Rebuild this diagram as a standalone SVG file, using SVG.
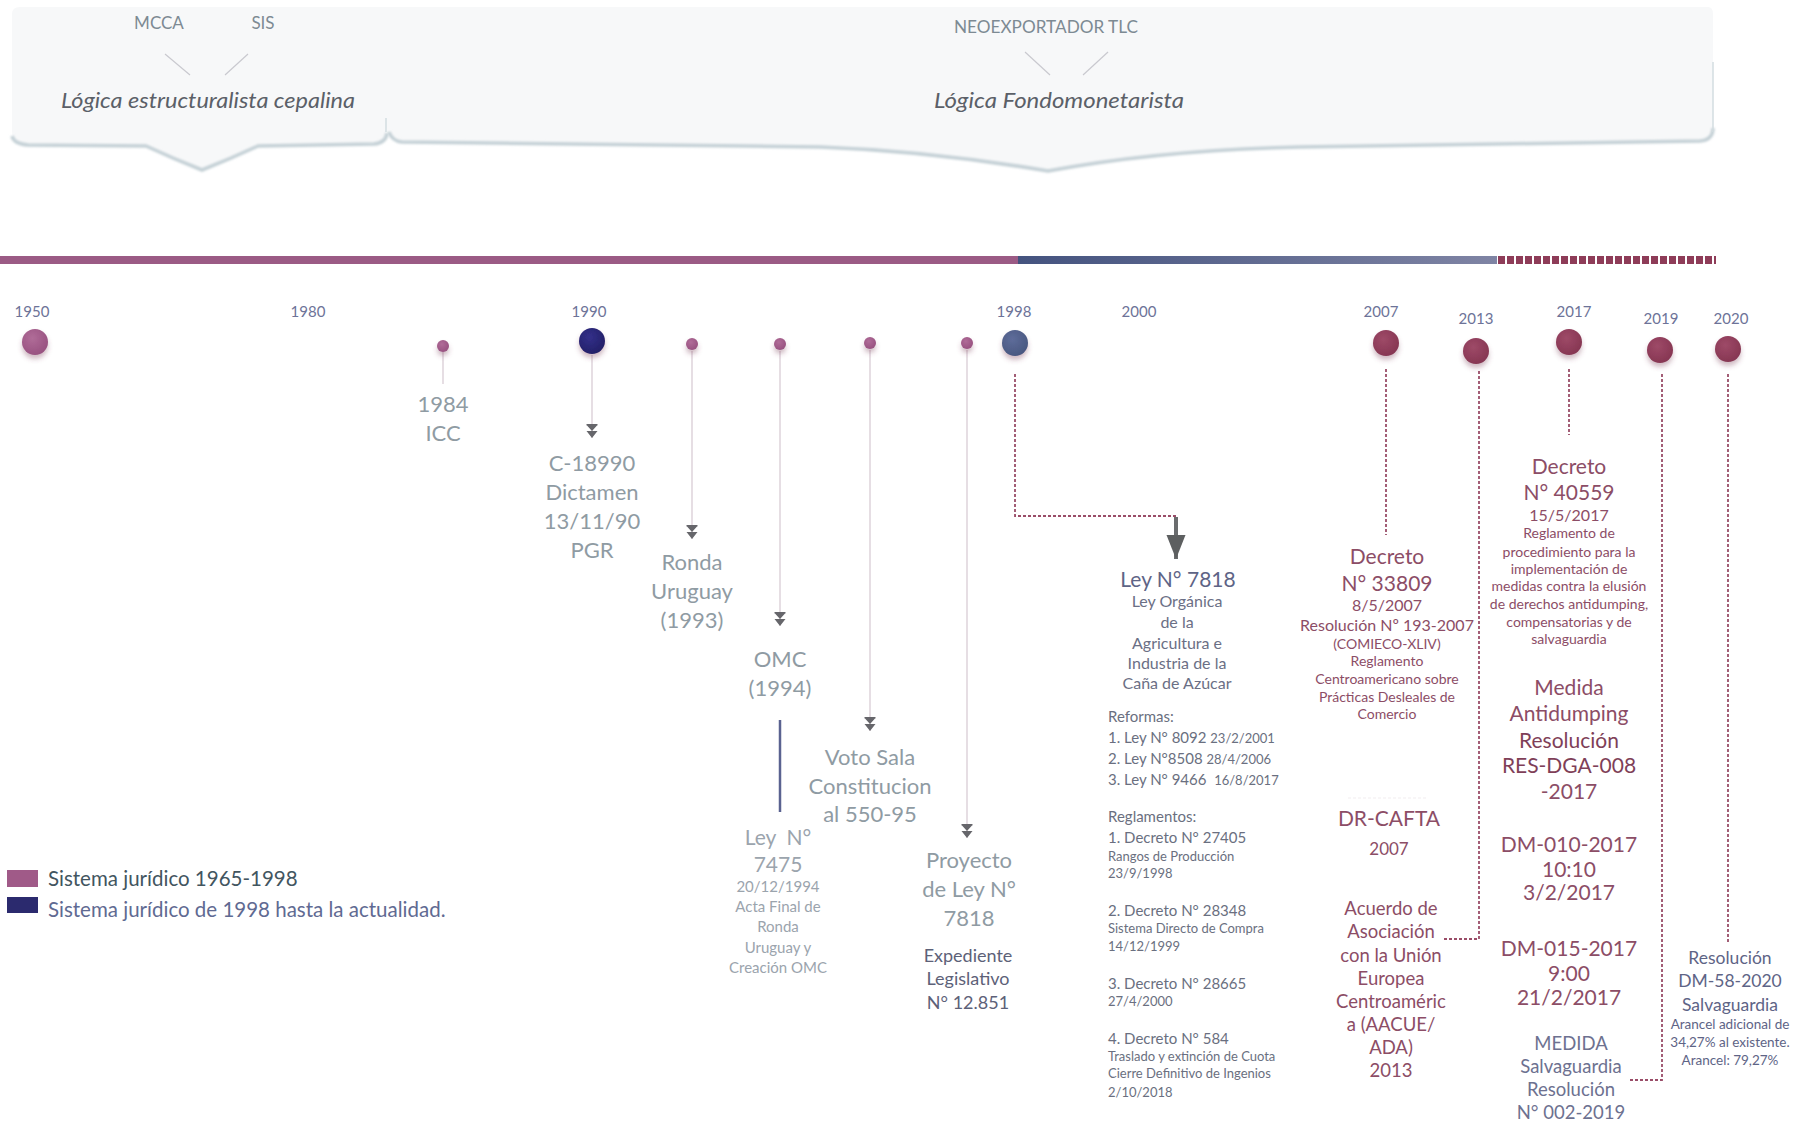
<svg xmlns="http://www.w3.org/2000/svg" width="1806" height="1123" viewBox="0 0 1806 1123">
<defs>
  <style>
    text { font-family: Lato, "Open Sans", "Liberation Sans", sans-serif; text-anchor: middle; }
    .yr { font-size: 15px; fill: #6d7398; }
    .top { font-size: 17px; fill: #7d8a93; }
    .logic { font-size: 22px; font-style: italic; fill: #5b6068; }
    .gl { font-size: 22px; fill: #8f9ba3; }
    .gs { font-size: 15px; fill: #9ba4ad; }
    .gm { font-size: 21px; fill: #9ba4ad; }
    .exp { font-size: 18px; fill: #5d6178; }
    .bl { font-size: 21px; fill: #5e6486; }
    .bs { font-size: 16px; fill: #6b6f85; }
    .ref { font-size: 15px; fill: #6a6f80; text-anchor: start; }
    .refs { font-size: 13px; fill: #6a6f80; }
    .ml { font-size: 21px; fill: #8c4d66; }
    .mm { font-size: 16px; fill: #8c4d66; }
    .ms { font-size: 14px; fill: #8c4d66; }
    .md { font-size: 18.5px; fill: #8c4d66; }
    .sv { font-size: 18.5px; fill: #6d7190; }
    .rs { font-size: 17.5px; fill: #5e6486; }
    .rss { font-size: 13.5px; fill: #5e6486; }
    .leg { font-size: 20.5px; text-anchor: start; }
    .conn { fill: none; stroke: #d9cdd5; stroke-width: 1.3; }
    .dash { fill: none; stroke: #9a4d68; stroke-width: 1.8; stroke-dasharray: 3 2; }
    .thin { stroke: #c9c9cf; stroke-width: 1.2; }
  </style>
  <marker id="dbl" markerUnits="userSpaceOnUse" viewBox="0 -6 14 12" markerWidth="14" markerHeight="12" refX="14" refY="0" orient="auto">
    <path d="M0,-5.5 L1.5,-5.5 L1.5,5.5 L0,5.5 Z M1.5,-5 L7,0 L1.5,5 Z M7,-5.5 L14,0 L7,5.5 Z" fill="#66666b"/>
  </marker>
  <marker id="big" markerUnits="userSpaceOnUse" viewBox="0 -10 24 20" markerWidth="24" markerHeight="20" refX="24" refY="0" orient="auto">
    <path d="M0,-9.5 L24,0 L0,9.5 Z" fill="#5d5f60"/>
  </marker>
  <linearGradient id="bluebar" x1="0" x2="1" y1="0" y2="0">
    <stop offset="0" stop-color="#44537f"/>
    <stop offset="1" stop-color="#7f84a4"/>
  </linearGradient>
  <radialGradient id="gPink" cx="0.4" cy="0.35" r="0.7">
    <stop offset="0" stop-color="#b06c98"/>
    <stop offset="1" stop-color="#97507f"/>
  </radialGradient>
  <radialGradient id="gNavy" cx="0.4" cy="0.35" r="0.7">
    <stop offset="0" stop-color="#33308a"/>
    <stop offset="1" stop-color="#221f66"/>
  </radialGradient>
  <radialGradient id="gSlate" cx="0.4" cy="0.35" r="0.7">
    <stop offset="0" stop-color="#5e6c9a"/>
    <stop offset="1" stop-color="#48577f"/>
  </radialGradient>
  <radialGradient id="gMar" cx="0.4" cy="0.35" r="0.7">
    <stop offset="0" stop-color="#9e4a68"/>
    <stop offset="1" stop-color="#853551"/>
  </radialGradient>
  <filter id="sh" x="-60%" y="-60%" width="220%" height="240%">
    <feDropShadow dx="0" dy="4" stdDeviation="2.5" flood-color="#7a3a55" flood-opacity="0.35"/>
  </filter>
  <filter id="soft" x="-5%" y="-50%" width="110%" height="200%">
    <feGaussianBlur stdDeviation="1"/>
  </filter>
</defs>

<rect width="1806" height="1123" fill="#ffffff"/>

<!-- Banner -->
<g id="banner">
  <path d="M386,7 H1708 Q1713,7 1713,14 V130 Q1713,139 1700,140 L1300,146 Q1160,149 1048,170 Q930,150 820,146 L402,141 Q388,140 386,128 Z" fill="#f7f8f9"/>
  <path d="M12,14 Q12,7 20,7 H386 V131 Q386,142 374,143 L258,145 Q230,158 202,169 Q174,158 146,145 L28,144 Q12,143 12,131 Z" fill="#f7f8f9"/>
  <path d="M12,136 Q14,144 28,145 L146,146 Q174,159 202,170 Q230,159 258,146 L374,144 Q386,143 387,133" fill="none" stroke="#c4d0d6" stroke-width="3.5" filter="url(#soft)"/>
  <path d="M389,132 Q392,141 402,142 L820,147 Q930,151 1048,171 Q1160,150 1300,147 L1700,141 Q1713,140 1713,128" fill="none" stroke="#c4d0d6" stroke-width="3.5" filter="url(#soft)"/>
  <path d="M386,118 V132 M1713,62 V132" fill="none" stroke="#d3dde1" stroke-width="1.5"/>
  <text class="top" x="159" y="29">MCCA</text>
  <text class="top" x="263" y="29">SIS</text>
  <line class="thin" x1="165" y1="54" x2="190" y2="75"/>
  <line class="thin" x1="248" y1="54" x2="225" y2="75"/>
  <text class="logic" x="208" y="108" textLength="294" lengthAdjust="spacingAndGlyphs">Lógica estructuralista cepalina</text>
  <text class="top" x="1046" y="33" textLength="184" lengthAdjust="spacingAndGlyphs">NEOEXPORTADOR TLC</text>
  <line class="thin" x1="1025" y1="52" x2="1050" y2="75"/>
  <line class="thin" x1="1108" y1="52" x2="1083" y2="75"/>
  <text class="logic" x="1059" y="108" textLength="250" lengthAdjust="spacingAndGlyphs">Lógica Fondomonetarista</text>
</g>

<!-- Timeline bar -->
<g id="timeline">
  <rect x="0" y="256" width="1018" height="8" fill="#9b5b85"/>
  <rect x="1018" y="256" width="479" height="8" fill="url(#bluebar)"/>
  <line x1="1498" y1="260" x2="1716" y2="260" stroke="#8e3c58" stroke-width="8" stroke-dasharray="7 2"/>
</g>

<!-- Year labels -->
<g id="years">
  <text class="yr" x="32" y="317">1950</text>
  <text class="yr" x="308" y="317">1980</text>
  <text class="yr" x="589" y="317">1990</text>
  <text class="yr" x="1014" y="317">1998</text>
  <text class="yr" x="1139" y="317">2000</text>
  <text class="yr" x="1381" y="317">2007</text>
  <text class="yr" x="1476" y="324">2013</text>
  <text class="yr" x="1574" y="317">2017</text>
  <text class="yr" x="1661" y="324">2019</text>
  <text class="yr" x="1731" y="324">2020</text>
</g>

<!-- Connectors -->
<g id="connectors">
  <line class="conn" x1="443" y1="352" x2="443" y2="384"/>
  <line class="conn" x1="592" y1="355" x2="592" y2="438" marker-end="url(#dbl)"/>
  <line class="conn" x1="692" y1="351" x2="692" y2="539" marker-end="url(#dbl)"/>
  <line class="conn" x1="780" y1="351" x2="780" y2="626" marker-end="url(#dbl)"/>
  <line class="conn" x1="870" y1="350" x2="870" y2="731" marker-end="url(#dbl)"/>
  <line class="conn" x1="967" y1="350" x2="967" y2="838" marker-end="url(#dbl)"/>
  <line x1="780" y1="720" x2="780" y2="812" stroke="#5a6290" stroke-width="2.5"/>
  <path class="dash" d="M1015,374 V516 H1176"/>
  <line x1="1176" y1="517" x2="1176" y2="559" stroke="#6a6c6e" stroke-width="4" marker-end="url(#big)"/>
  <line class="dash" x1="1386" y1="369" x2="1386" y2="535"/>
  <path class="dash" d="M1479,371 V939 H1443"/>
  <line class="dash" x1="1569" y1="369" x2="1569" y2="435"/>
  <path class="dash" d="M1662,374 V1080 H1630"/>
  <line class="dash" x1="1728" y1="374" x2="1728" y2="944"/>
  <line x1="1348" y1="798" x2="1428" y2="798" stroke="#f1eef0" stroke-width="1.2" stroke-dasharray="3 2"/>
</g>

<!-- Nodes -->
<g id="n1950"><circle cx="35" cy="342" r="13" fill="url(#gPink)" filter="url(#sh)"/></g>
<g id="n1984">
  <circle cx="443" cy="346" r="6" fill="url(#gPink)" filter="url(#sh)"/>
  <text class="gl" x="443" y="412">1984</text>
  <text class="gl" x="443" y="441">ICC</text>
</g>
<g id="n1990">
  <circle cx="592" cy="341" r="13" fill="url(#gNavy)" filter="url(#sh)"/>
  <text class="gl" x="592" y="471">C-18990</text>
  <text class="gl" x="592" y="500">Dictamen</text>
  <text class="gl" x="592" y="529">13/11/90</text>
  <text class="gl" x="592" y="558">PGR</text>
</g>
<g id="nRonda">
  <circle cx="692" cy="344" r="6" fill="url(#gPink)" filter="url(#sh)"/>
  <text class="gl" x="692" y="570">Ronda</text>
  <text class="gl" x="692" y="599">Uruguay</text>
  <text class="gl" x="692" y="628">(1993)</text>
</g>
<g id="nOMC">
  <circle cx="780" cy="344" r="6" fill="url(#gPink)" filter="url(#sh)"/>
  <text class="gl" x="780" y="667">OMC</text>
  <text class="gl" x="780" y="696">(1994)</text>
</g>
<g id="nLey7475">
  <text class="gm" x="778" y="845">Ley&#160; N°</text>
  <text class="gm" x="778" y="872">7475</text>
  <text class="gs" x="778" y="892">20/12/1994</text>
  <text class="gs" x="778" y="912">Acta Final de</text>
  <text class="gs" x="778" y="932">Ronda</text>
  <text class="gs" x="778" y="953">Uruguay y</text>
  <text class="gs" x="778" y="973">Creación OMC</text>
</g>
<g id="nVoto">
  <circle cx="870" cy="343" r="6" fill="url(#gPink)" filter="url(#sh)"/>
  <text class="gl" x="870" y="765">Voto Sala</text>
  <text class="gl" x="870" y="794">Constitucion</text>
  <text class="gl" x="870" y="822">al 550-95</text>
</g>
<g id="nProyecto">
  <circle cx="967" cy="343" r="6" fill="url(#gPink)" filter="url(#sh)"/>
  <text class="gl" x="969" y="868">Proyecto</text>
  <text class="gl" x="969" y="897">de Ley N°</text>
  <text class="gl" x="969" y="926">7818</text>
  <text class="exp" x="968" y="962">Expediente</text>
  <text class="exp" x="968" y="985">Legislativo</text>
  <text class="exp" x="968" y="1009">N° 12.851</text>
</g>
<g id="n1998">
  <circle cx="1015" cy="343" r="13" fill="url(#gSlate)" filter="url(#sh)"/>
  <text class="bl" x="1178" y="587">Ley N° 7818</text>
  <text class="bs" x="1177" y="607">Ley Orgánica</text>
  <text class="bs" x="1177" y="628">de la</text>
  <text class="bs" x="1177" y="649">Agricultura e</text>
  <text class="bs" x="1177" y="669">Industria de la</text>
  <text class="bs" x="1177" y="689">Caña de Azúcar</text>
</g>
<g id="nReformas">
  <text class="ref" x="1108" y="722">Reformas:</text>
  <text class="ref" x="1108" y="743">1. Ley N° 8092 <tspan class="refs">23/2/2001</tspan></text>
  <text class="ref" x="1108" y="764">2. Ley N°8508 <tspan class="refs">28/4/2006</tspan></text>
  <text class="ref" x="1108" y="785">3. Ley N° 9466&#160; <tspan class="refs">16/8/2017</tspan></text>
  <text class="ref" x="1108" y="822">Reglamentos:</text>
  <text class="ref" x="1108" y="843">1. Decreto N° 27405</text>
  <text class="ref refs" x="1108" y="861">Rangos de Producción</text>
  <text class="ref refs" x="1108" y="878">23/9/1998</text>
  <text class="ref" x="1108" y="916">2. Decreto N° 28348</text>
  <text class="ref refs" x="1108" y="933">Sistema Directo de Compra</text>
  <text class="ref refs" x="1108" y="951">14/12/1999</text>
  <text class="ref" x="1108" y="989">3. Decreto N° 28665</text>
  <text class="ref refs" x="1108" y="1006">27/4/2000</text>
  <text class="ref" x="1108" y="1044">4. Decreto N° 584</text>
  <text class="ref refs" x="1108" y="1061">Traslado y extinción de Cuota</text>
  <text class="ref refs" x="1108" y="1078">Cierre Definitivo de Ingenios</text>
  <text class="ref refs" x="1108" y="1097">2/10/2018</text>
</g>
<g id="n2007">
  <circle cx="1386" cy="343" r="13" fill="url(#gMar)" filter="url(#sh)"/>
  <text class="ml" x="1387" y="564">Decreto</text>
  <text class="ml" x="1387" y="591">N° 33809</text>
  <text class="mm" x="1387" y="611">8/5/2007</text>
  <text class="mm" x="1387" y="631">Resolución Nº 193-2007</text>
  <text class="ms" x="1387" y="649">(COMIECO-XLIV)</text>
  <text class="ms" x="1387" y="666">Reglamento</text>
  <text class="ms" x="1387" y="684">Centroamericano sobre</text>
  <text class="ms" x="1387" y="702">Prácticas Desleales de</text>
  <text class="ms" x="1387" y="719">Comercio</text>
</g>
<g id="nCAFTA">
  <text class="ml" x="1389" y="826">DR-CAFTA</text>
  <text class="mm" x="1389" y="855" style="font-size:17px">2007</text>
</g>
<g id="nAACUE">
  <circle cx="1476" cy="351" r="13" fill="url(#gMar)" filter="url(#sh)"/>
  <text class="md" x="1391" y="915">Acuerdo de</text>
  <text class="md" x="1391" y="938">Asociación</text>
  <text class="md" x="1391" y="962">con la Unión</text>
  <text class="md" x="1391" y="985">Europea</text>
  <text class="md" x="1391" y="1008">Centroaméric</text>
  <text class="md" x="1391" y="1031">a (AACUE/</text>
  <text class="md" x="1391" y="1054">ADA)</text>
  <text class="md" x="1391" y="1077">2013</text>
</g>
<g id="n2017">
  <circle cx="1569" cy="342" r="13" fill="url(#gMar)" filter="url(#sh)"/>
  <text class="ml" x="1569" y="474">Decreto</text>
  <text class="ml" x="1569" y="500">N° 40559</text>
  <text class="mm" x="1569" y="521">15/5/2017</text>
  <text class="ms" x="1569" y="538">Reglamento de</text>
  <text class="ms" x="1569" y="557">procedimiento para la</text>
  <text class="ms" x="1569" y="574">implementación de</text>
  <text class="ms" x="1569" y="591">medidas contra la elusión</text>
  <text class="ms" x="1569" y="609">de derechos antidumping,</text>
  <text class="ms" x="1569" y="627">compensatorias y de</text>
  <text class="ms" x="1569" y="644">salvaguardia</text>
</g>
<g id="nMedida">
  <text class="ml" x="1569" y="695">Medida</text>
  <text class="ml" x="1569" y="721">Antidumping</text>
  <text class="ml" x="1569" y="748" style="fill:#7f3f58">Resolución</text>
  <text class="ml" x="1569" y="773" style="fill:#7f3f58">RES-DGA-008</text>
  <text class="ml" x="1569" y="799">-2017</text>
</g>
<g id="nDM010">
  <text class="ml" x="1569" y="852">DM-010-2017</text>
  <text class="ml" x="1569" y="877">10:10</text>
  <text class="ml" x="1569" y="900">3/2/2017</text>
</g>
<g id="nDM015">
  <text class="ml" x="1569" y="956">DM-015-2017</text>
  <text class="ml" x="1569" y="981">9:00</text>
  <text class="ml" x="1569" y="1005">21/2/2017</text>
</g>
<g id="n2019">
  <circle cx="1660" cy="350" r="13" fill="url(#gMar)" filter="url(#sh)"/>
  <text class="sv" x="1571" y="1050">MEDIDA</text>
  <text class="sv" x="1571" y="1073">Salvaguardia</text>
  <text class="sv" x="1571" y="1096">Resolución</text>
  <text class="sv" x="1571" y="1119">N° 002-2019</text>
</g>
<g id="n2020">
  <circle cx="1728" cy="349" r="13" fill="url(#gMar)" filter="url(#sh)"/>
  <text class="rs" x="1730" y="964">Resolución</text>
  <text class="rs" x="1730" y="987">DM-58-2020</text>
  <text class="rs" x="1730" y="1011">Salvaguardia</text>
  <text class="rss" x="1730" y="1029">Arancel adicional de</text>
  <text class="rss" x="1730" y="1047">34,27% al existente.</text>
  <text class="rss" x="1730" y="1065">Arancel: 79,27%</text>
</g>

<!-- Legend -->
<g id="legend">
  <rect x="7" y="870" width="31" height="17" fill="#a05a88"/>
  <rect x="7" y="897" width="31" height="16" fill="#2b2a6e"/>
  <text class="leg" x="48" y="886" fill="#42555f">Sistema jurídico 1965-1998</text>
  <text class="leg" x="48" y="917" fill="#5f6a92">Sistema jurídico de 1998 hasta la actualidad.</text>
</g>
</svg>
